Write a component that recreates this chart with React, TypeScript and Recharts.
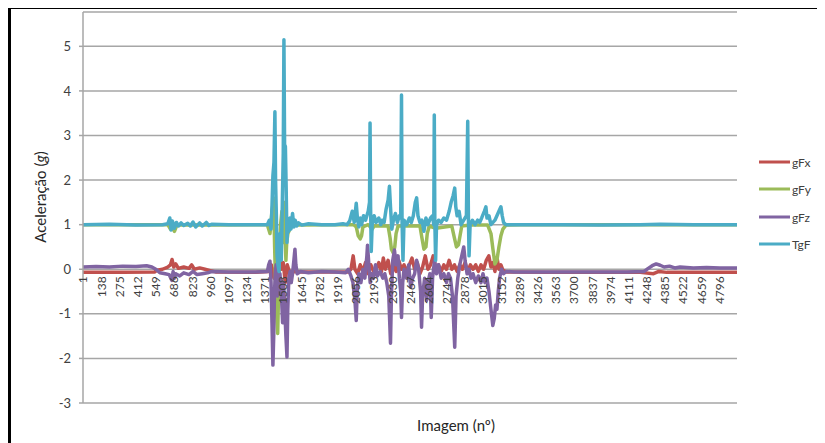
import { CartesianGrid, Line, LineChart, ReferenceDot, XAxis, YAxis } from "recharts";

// [image index, acceleration in g]
const gFx = [
  [1, -0.07], [300, -0.07], [540, -0.06], [560, -0.02], [600, 0.0], [640, 0.05], [660, 0.1], [672, 0.22],
  [685, 0.05], [700, 0.12], [720, 0.02], [760, 0.05], [800, 0.02], [820, 0.1], [840, 0.0], [880, 0.03],
  [920, 0.0], [960, -0.03], [1000, -0.06], [1300, -0.07], [1400, -0.05], [1420, 0.1], [1440, -0.2],
  [1460, 0.2], [1480, 0.3], [1495, 0.0], [1510, 0.15], [1525, -0.3], [1540, 0.1], [1560, -0.1],
  [1580, -0.05], [1650, -0.06], [2000, -0.06], [2020, 0.0], [2037, 0.3], [2050, 0.0], [2070, -0.1],
  [2090, 0.1], [2110, -0.05], [2130, 0.15], [2150, -0.1], [2170, 0.1], [2190, -0.05], [2210, 0.0],
  [2230, 0.15], [2250, -0.05], [2264, 0.25], [2280, 0.0], [2300, 0.2], [2320, -0.1], [2340, 0.1],
  [2360, -0.05], [2380, 0.2], [2400, 0.0], [2420, 0.1], [2440, -0.05], [2460, 0.1], [2480, 0.25],
  [2500, 0.0], [2520, 0.15], [2540, -0.1], [2560, 0.05], [2580, 0.3], [2600, 0.0], [2620, 0.1],
  [2640, 0.3], [2660, 0.0], [2680, 0.1], [2700, -0.05], [2720, 0.1], [2740, 0.0], [2760, 0.2],
  [2780, 0.0], [2800, 0.1], [2820, -0.05], [2840, 0.1], [2860, 0.0], [2880, 0.15], [2900, -0.05],
  [2920, 0.1], [2940, 0.0], [2960, 0.1], [2980, -0.05], [3000, 0.1], [3020, 0.0], [3040, 0.2],
  [3059, 0.3], [3075, 0.05], [3090, 0.15], [3105, -0.05], [3120, 0.27], [3135, 0.0], [3150, 0.1],
  [3165, -0.02], [3190, -0.06], [3500, -0.07], [4200, -0.07], [4300, -0.1], [4340, -0.05],
  [4400, -0.07], [4929, -0.07],
];

const gFy = [
  [1, 1.0], [640, 1.0], [660, 0.9], [670, 0.95], [690, 0.85], [710, 1.0], [960, 0.99], [1390, 1.0],
  [1410, 0.8], [1425, 1.3], [1438, 1.6], [1445, 0.5], [1452, -0.3], [1460, -1.0], [1468, -1.44],
  [1474, -0.6], [1480, 0.3], [1490, 1.0], [1500, 1.3], [1508, 0.6], [1515, 1.5], [1522, 0.9],
  [1530, 0.2], [1536, 0.6], [1545, 0.8], [1560, 0.9], [1580, 1.0], [1620, 0.99], [1900, 1.0],
  [2040, 1.0], [2060, 0.95], [2075, 0.75], [2090, 0.68], [2100, 0.75], [2110, 0.95], [2150, 1.0],
  [2180, 0.9], [2195, 0.97], [2300, 0.97], [2315, 0.7], [2325, 0.45], [2340, 0.36], [2350, 0.5],
  [2360, 0.8], [2375, 0.97], [2540, 0.97], [2555, 0.7], [2570, 0.45], [2585, 0.5], [2595, 0.8],
  [2610, 0.97], [2660, 0.92], [2780, 0.97], [2800, 0.7], [2815, 0.5], [2830, 0.55], [2842, 0.75],
  [2855, 0.97], [2920, 0.99], [3050, 0.99], [3075, 0.8], [3090, 0.45], [3105, 0.12], [3120, 0.2],
  [3135, 0.5], [3150, 0.75], [3165, 0.9], [3188, 0.99], [3300, 1.0], [4929, 1.0],
];

const gFz = [
  [1, 0.05], [100, 0.06], [200, 0.05], [300, 0.07], [400, 0.06], [480, 0.08], [520, 0.05], [550, 0.0],
  [580, -0.08], [620, -0.1], [650, -0.12], [670, -0.25], [680, -0.05], [690, -0.2], [700, -0.1],
  [730, -0.15], [760, -0.08], [800, -0.12], [830, -0.05], [860, -0.12], [900, -0.1], [940, -0.08],
  [970, -0.05], [1100, -0.06], [1300, -0.06], [1390, -0.05], [1400, 0.1], [1410, 0.18], [1418, -0.3],
  [1425, -1.2], [1432, -2.15], [1438, -1.5], [1444, -0.5], [1450, -0.1], [1456, 0.1], [1465, -0.6],
  [1475, -0.3], [1485, -0.1], [1495, -0.5], [1505, -1.2], [1512, -0.3], [1520, -0.8], [1530, -1.5],
  [1538, -1.97], [1544, -0.9], [1552, -0.2], [1562, -0.05], [1570, -0.3], [1580, -0.1], [1590, 0.2],
  [1598, 0.45], [1605, 0.1], [1615, -0.1], [1640, -0.05], [1700, -0.08], [1800, -0.05], [1900, -0.06],
  [1980, -0.08], [2000, 0.0], [2020, -0.15], [2035, -0.3], [2050, -0.7], [2060, -1.15], [2068, -0.4],
  [2080, -0.1], [2095, -0.3], [2110, 0.0], [2125, -0.2], [2140, 0.3], [2145, 0.54], [2155, 0.1],
  [2165, -0.3], [2175, -0.1], [2190, -0.2], [2205, 0.1], [2220, -0.15], [2240, -0.05], [2260, -0.2],
  [2275, -0.1], [2290, -0.3], [2305, -0.6], [2318, -1.66], [2325, -0.6], [2335, 0.2], [2348, 0.43],
  [2360, 0.1], [2375, 0.3], [2385, -0.2], [2395, -0.5], [2401, -1.08], [2410, -0.3], [2420, 0.0],
  [2440, -0.2], [2455, 0.1], [2470, -0.4], [2485, -0.2], [2500, -0.1], [2515, 0.2], [2530, 0.0],
  [2545, -0.5], [2552, -1.3], [2560, -0.6], [2575, -0.2], [2590, -0.7], [2600, -0.3], [2615, -0.1],
  [2625, -1.08], [2635, -0.2], [2650, 0.2], [2665, -0.1], [2680, 0.1], [2700, -0.2], [2720, -0.1],
  [2740, -0.3], [2755, -0.1], [2770, -0.2], [2785, -0.6], [2802, -1.75], [2812, -0.6], [2825, -0.2],
  [2840, 0.1], [2855, 0.3], [2870, 0.5], [2880, 0.2], [2895, -0.1], [2910, 0.0], [2925, -0.2],
  [2940, -0.1], [2960, -0.3], [2980, -0.15], [3000, -0.3], [3015, -0.1], [3030, -0.3], [3045, -0.2],
  [3060, -0.5], [3075, -0.9], [3089, -1.26], [3100, -1.1], [3110, -0.8], [3120, -0.9], [3130, -0.5],
  [3140, -0.2], [3155, 0.0], [3170, -0.1], [3190, -0.05], [3250, -0.06], [3500, -0.06], [3800, -0.06],
  [4100, -0.06], [4230, -0.05], [4260, 0.02], [4290, 0.08], [4320, 0.12], [4350, 0.09], [4380, 0.05],
  [4420, 0.07], [4460, 0.03], [4500, 0.05], [4600, 0.03], [4700, 0.04], [4800, 0.03], [4929, 0.03],
];

const tgF = [
  [1, 1.0], [200, 1.01], [400, 0.99], [600, 1.0], [640, 1.02], [655, 1.15], [665, 0.88], [675, 1.08],
  [690, 0.92], [705, 1.05], [720, 0.97], [740, 1.04], [760, 0.98], [790, 1.03], [810, 0.97], [830, 1.06],
  [850, 0.95], [880, 1.04], [900, 0.97], [930, 1.05], [950, 0.98], [970, 1.01], [1100, 1.0], [1300, 1.0],
  [1390, 1.0], [1405, 1.1], [1418, 0.9], [1425, 1.4], [1432, 2.1], [1440, 2.4], [1447, 3.53], [1452, 2.0],
  [1458, 1.2], [1463, 0.3], [1470, 0.1], [1478, -0.05], [1486, 0.8], [1495, 0.2], [1503, 1.5],
  [1510, 2.6], [1515, 5.15], [1520, 2.8], [1526, 2.75], [1532, 1.8], [1538, 0.6], [1544, 1.1],
  [1550, 0.85], [1560, 1.15], [1568, 0.9], [1580, 1.25], [1590, 0.95], [1600, 1.1], [1612, 0.97],
  [1625, 1.04], [1650, 0.99], [1700, 1.02], [1800, 1.0], [1900, 1.0], [1960, 1.02], [1990, 1.0],
  [2010, 1.08], [2030, 1.3], [2045, 1.05], [2060, 1.48], [2070, 1.1], [2080, 0.95], [2090, 1.15],
  [2100, 1.0], [2115, 1.2], [2130, 1.1], [2150, 1.3], [2160, 1.5], [2164, 3.28], [2168, 1.4],
  [2173, 0.4], [2180, 1.0], [2195, 1.2], [2210, 1.05], [2230, 1.15], [2245, 1.0], [2255, 1.1],
  [2270, 1.05], [2285, 1.35], [2300, 1.55], [2310, 1.86], [2318, 1.4], [2328, 0.9], [2340, 1.1],
  [2355, 1.25], [2370, 1.05], [2385, 1.2], [2395, 1.15], [2401, 3.91], [2405, 1.1], [2412, 0.2],
  [2420, 1.1], [2440, 1.0], [2460, 1.15], [2475, 1.05], [2490, 1.2], [2505, 1.5], [2515, 1.6],
  [2525, 1.2], [2540, 1.05], [2555, 1.1], [2570, 0.85], [2585, 1.15], [2600, 1.0], [2620, 1.15],
  [2635, 1.2], [2644, 1.0], [2648, 3.46], [2652, 1.1], [2658, 0.2], [2665, 1.0], [2680, 1.1],
  [2700, 1.05], [2720, 1.15], [2740, 1.1], [2760, 1.3], [2775, 1.5], [2790, 1.65], [2802, 1.82],
  [2810, 1.4], [2820, 1.2], [2835, 1.3], [2850, 1.0], [2870, 1.1], [2890, 1.2], [2900, 3.32],
  [2905, 1.2], [2910, 0.3], [2918, 1.0], [2935, 1.1], [2955, 1.0], [2975, 1.1], [2990, 1.05],
  [3005, 1.15], [3025, 1.3], [3037, 1.4], [3045, 1.15], [3060, 1.2], [3075, 1.0], [3090, 1.05],
  [3105, 1.1], [3120, 1.2], [3135, 1.3], [3150, 1.4], [3160, 1.2], [3170, 1.05], [3188, 1.0],
  [3300, 1.0], [3600, 1.0], [3900, 0.99], [4200, 1.0], [4350, 1.01], [4600, 1.0], [4929, 1.0],
];

const xTickLabels = [
  1, 138, 275, 412, 549, 686, 823, 960, 1097, 1234, 1371, 1508, 1645, 1782, 1919, 2056, 2193, 2330,
  2467, 2604, 2741, 2878, 3015, 3152, 3289, 3426, 3563, 3700, 3837, 3974, 4111, 4248, 4385, 4522,
  4659, 4796,
];
const yTicks = [-3, -2, -1, 0, 1, 2, 3, 4, 5];

const series = [
  { name: "gFx", color: "#C0504D", points: gFx },
  { name: "gFy", color: "#9BBB59", points: gFy },
  { name: "gFz", color: "#8064A2", points: gFz },
  { name: "TgF", color: "#4BACC6", points: tgF },
];

const FONT = "Lato, 'Open Sans', sans-serif";
const TEXT = "#404040";
const GRID = "#a6a6a6";

const toRows = (pts: number[][]) => pts.map(([i, v]) => ({ i, v }));

function XTick({ cx, cy, label }: any) {
  const y = cy + 7;
  return (
    <text
      x={cx}
      y={y}
      transform={`rotate(-90 ${cx} ${y})`}
      textAnchor="end"
      dominantBaseline="central"
      fontSize={12}
      fontFamily={FONT}
      fill={TEXT}
    >
      {label}
    </text>
  );
}

export default function App() {
  return (
    <div style={{ position: "relative", width: 817, height: 435, fontFamily: FONT }}>
      <div
        style={{
          position: "absolute",
          left: 0,
          top: -1,
          width: 817,
          height: 436,
          borderTop: "2px solid #000",
          borderLeft: "3px solid #000",
          boxSizing: "border-box",
        }}
      />
      <LineChart
        width={817}
        height={435}
        margin={{ top: 4, right: 88, bottom: 40, left: 15 }}
        style={{ position: "absolute", left: 0, top: 0 }}
      >
        <CartesianGrid vertical={false} stroke={GRID} strokeWidth={1.5} />
        <XAxis dataKey="i" type="number" domain={[1, 4929]} hide height={0} />
        <YAxis
          type="number"
          domain={[-3, 5.77]}
          ticks={yTicks}
          width={60}
          axisLine={{ stroke: GRID, strokeWidth: 1.5 }}
          tickLine={{ stroke: GRID, strokeWidth: 1.5 }}
          tickSize={4}
          tickMargin={8}
          tick={{ fill: TEXT, fontSize: 13, fontFamily: FONT }}
        />
        {series.map((s) => (
          <Line
            key={s.name}
            data={toRows(s.points)}
            dataKey="v"
            name={s.name}
            type="linear"
            stroke={s.color}
            strokeWidth={3.5}
            strokeLinejoin="round"
            dot={false}
            isAnimationActive={false}
          />
        ))}
        {xTickLabels.map((t) => (
          <ReferenceDot
            key={t}
            x={t}
            y={0}
            r={0}
            shape={(p: any) => <XTick cx={p.cx} cy={p.cy} label={t} />}
          />
        ))}
      </LineChart>
      <div
        style={{
          position: "absolute",
          left: 32,
          top: 189,
          transform: "translate(-50%, -50%) rotate(-90deg)",
          fontSize: 15,
          color: "#262626",
          whiteSpace: "nowrap",
        }}
      >
        Aceleração (<i>g</i>)
      </div>
      <div
        style={{
          position: "absolute",
          left: 448,
          top: 417,
          transform: "translate(-50%, -50%)",
          fontSize: 15,
          color: "#262626",
          whiteSpace: "nowrap",
        }}
      >
        Imagem (nº)
      </div>
      {series.map((s, k) => (
        <div
          key={s.name}
          style={{
            position: "absolute",
            left: 751,
            top: 154 + k * 27.3,
            transform: "translateY(-50%)",
            display: "flex",
            alignItems: "center",
            fontSize: 12,
            color: TEXT,
          }}
        >
          <span style={{ display: "inline-block", width: 31, height: 3, background: s.color, marginRight: 2 }} />
          {s.name}
        </div>
      ))}
    </div>
  );
}
